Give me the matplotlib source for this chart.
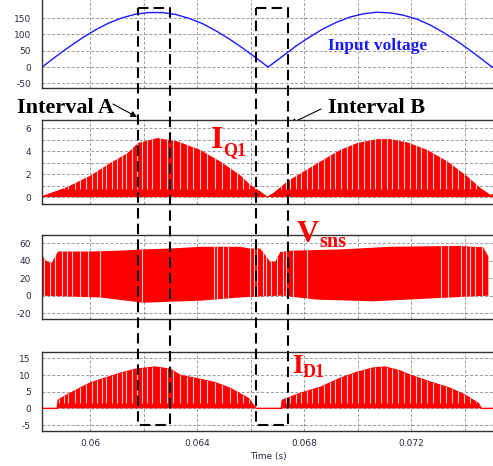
import numpy as np
import matplotlib.pyplot as plt
from matplotlib.lines import Line2D
from matplotlib import transforms

W, H = 493, 466

plt.rcParams['axes.unicode_minus'] = False

# rectified input voltage (V)
t_vin = [0.0582, 0.0587, 0.0592, 0.0597, 0.0602, 0.0607, 0.0612, 0.0617, 0.0622,
         0.0627, 0.0632, 0.0637, 0.0642, 0.0647, 0.0652, 0.0657, 0.0662, 0.06665,
         0.0672, 0.0677, 0.0682, 0.0687, 0.0692, 0.0697, 0.0702, 0.0707, 0.0712,
         0.0717, 0.0722, 0.0727, 0.0732, 0.0737, 0.0742, 0.0747, 0.07502, 0.0755]
v_in = [0, 31, 61, 89, 114, 135, 151, 162, 167, 167, 161, 149, 133, 111, 86, 58, 28, 0,
        34, 65, 92, 117, 137, 153, 163, 168, 166, 159, 147, 129, 106, 80, 51, 20, 0, 30]

# switch current IQ1 peak envelope (A)
t_iq = [0.058206, 0.058393, 0.05914, 0.06, 0.060748, 0.061383, 0.061794, 0.062505,
        0.063252, 0.064112, 0.06486, 0.065607, 0.065981, 0.066355, 0.066617, 0.066841,
        0.067364, 0.067962, 0.06871, 0.069346, 0.069981, 0.070729, 0.071215, 0.07185,
        0.072598, 0.073346, 0.074093, 0.074579, 0.074953, 0.075514]
i_q1 = [0.1, 0.25, 0.87, 1.85, 2.96, 3.8, 4.7, 5.13, 4.85, 4.1, 3.1, 1.9, 1.07, 0.5,
        0.05, 0.35, 1.36, 2.2, 3.24, 4.1, 4.7, 5.04, 5.04, 4.75, 4.1, 3.1, 1.8, 0.8, 0.2, 0.6]

# sense voltage Vsns, upper and lower envelope (V)
t_sns_hi = [0.058206, 0.058318, 0.058467, 0.05858, 0.058692, 0.058804, 0.06, 0.061121,
            0.061981, 0.06299, 0.064112, 0.065607, 0.065981, 0.066355, 0.066579, 0.066728,
            0.066915, 0.067102, 0.067476, 0.069345, 0.071214, 0.073718, 0.07469, 0.074877]
v_sns_hi = [46.6, 41, 38, 38, 45, 50.6, 50.6, 51.6, 53, 54, 56, 56, 54, 54, 45, 39,
            39, 50, 51.5, 53, 56, 57, 55.5, 45]
t_sns_lo = [0.058206, 0.058804, 0.060374, 0.061981, 0.064112, 0.065607, 0.066168,
            0.067102, 0.067476, 0.068485, 0.070579, 0.073083, 0.074093, 0.074877]
v_sns_lo = [0, -0.5, -2, -8, -5.7, -2, -1, 0, -1, -4.5, -6.4, -2.6, -1, 0]

# diode current ID1 peak envelope (A)
t_id = [0.058206, 0.058766, 0.058804, 0.059252, 0.06, 0.061121, 0.061682, 0.06243,
        0.06299, 0.063364, 0.064112, 0.064673, 0.065233, 0.065682, 0.065906, 0.066093,
        0.066205, 0.06714, 0.067177, 0.06785, 0.068597, 0.069345, 0.06998, 0.070579,
        0.071027, 0.071588, 0.071962, 0.072709, 0.073457, 0.074018, 0.074503, 0.074616,
        0.075513]
i_d1 = [0, 0, 2.5, 4.5, 7.6, 10.5, 11.7, 12.4, 11.7, 9.9, 8.7, 7.7, 6.0, 4.0, 3.0, 1.0,
        0, 0, 2.4, 4.5, 6.3, 9.0, 10.8, 12.1, 12.4, 11.2, 9.9, 7.9, 6.0, 3.9, 1.5, 0, 0]

# instants where the switching pulses leave gaps in the plotted traces
gaps_i = [0.058617, 0.058841, 0.059028, 0.059178, 0.059439, 0.059626, 0.05985, 0.060075,
          0.060262, 0.060449, 0.060598, 0.060822, 0.061009, 0.061196, 0.061346, 0.06157,
          0.061757, 0.061944, 0.062131, 0.062318, 0.062617, 0.062878, 0.063103, 0.063364,
          0.063626, 0.06385, 0.064112, 0.064373, 0.064673, 0.064934, 0.065233, 0.065495,
          0.065719, 0.065943, 0.066168, 0.066429, 0.066915, 0.06714, 0.067326, 0.067476,
          0.0677, 0.067887, 0.068111, 0.068298, 0.068523, 0.068747, 0.068971, 0.069158,
          0.069382, 0.069607, 0.069794, 0.070018, 0.070242, 0.070466, 0.070653, 0.070878,
          0.071102, 0.071289, 0.071513, 0.071737, 0.071962, 0.072186, 0.072373, 0.072597,
          0.072821, 0.073083, 0.073307, 0.073532, 0.073756, 0.07398, 0.074204, 0.074429,
          0.074653]
gaps_sns = [0.05828, 0.058505, 0.058692, 0.058953, 0.05914, 0.059327, 0.059626, 0.059925,
            0.060374, 0.061944, 0.064635, 0.064747, 0.064972, 0.065158, 0.065981, 0.06613,
            0.066242, 0.066467, 0.066579, 0.066766, 0.06699, 0.067214, 0.067326, 0.067588,
            0.068111, 0.07312, 0.073382, 0.073868, 0.074055, 0.074204, 0.074391, 0.074653]

# highlighted intervals (s)
interval_a = (0.0618, 0.0630)
interval_b = (0.0662, 0.0674)

RED = '#ff0000'
BLUE = '#1a1aff'
TICK = '#2a2a44'

fig = plt.figure(figsize=(W / 100, H / 100), dpi=100)


def frac(x, y):
    return x / W, 1 - y / H


def panel(top, bottom, ylim, yticks, yminor=None):
    ax = fig.add_axes([42 / W, 1 - bottom / H, (505 - 42) / W, (bottom - top) / H])
    ax.set_xlim(0.0582, 0.0755)
    ax.set_ylim(*ylim)
    ax.set_xticks([0.06, 0.064, 0.068, 0.072])
    ax.set_xticks([0.062, 0.066, 0.070, 0.074], minor=True)
    ax.set_xticklabels(['0.06', '0.064', '0.068', '0.072'])
    ax.set_yticks(yticks)
    if yminor:
        ax.set_yticks(yminor, minor=True)
    ax.set_axisbelow(True)
    ax.grid(True, which='both', color='#9a9a9a', ls=(0, (3, 2)), lw=0.7)
    ax.tick_params(which='both', length=0, labelsize=6.5, labelcolor=TICK, pad=8)
    ax.tick_params(axis='x', labelbottom=False, pad=6)
    for s in ax.spines.values():
        s.set_color('#333333')
        s.set_linewidth(1)
    return ax


def pulses(ax, poly, gaps, lo, hi):
    vl = ax.vlines(gaps, lo, hi, colors='white', lw=0.8, alpha=0.8, zorder=3)
    vl.set_clip_path(poly)


# input voltage
ax1 = panel(-1.5, 88.3, (-65, 210), [-50, 0, 50, 100, 150])
ax1.plot(t_vin, v_in, color=BLUE, lw=1)

# IQ1
ax2 = panel(120, 204, (-0.6, 6.7), [0, 2, 4, 6], [1, 3, 5])
poly = ax2.fill(np.r_[t_iq[0], t_iq, t_iq[-1]], np.r_[0, i_q1, 0], color=RED, lw=0)[0]
pulses(ax2, poly, gaps_i, 0.7, 10)

# Vsns
ax3 = panel(235, 319.3, (-27, 69.5), [-20, 0, 20, 40, 60])
poly = ax3.fill(np.r_[t_sns_hi, t_sns_lo[::-1]], np.r_[v_sns_hi, v_sns_lo[::-1]],
                color=RED, lw=0)[0]
pulses(ax3, poly, gaps_sns, -30, 80)

# ID1
ax4 = panel(351.7, 430.7, (-6.7, 17), [-5, 0, 5, 10, 15])
poly = ax4.fill(np.r_[t_id[0], t_id, t_id[-1]], np.r_[0, i_d1, 0], color=RED, lw=0)[0]
ax4.plot(t_id, i_d1, color=RED, lw=1)
pulses(ax4, poly, gaps_i, 1.5, 20)
ax4.tick_params(axis='x', labelbottom=True)
fig.text(268 / W, 1 - 457 / H, 'Time (s)', fontsize=6.5, color=TICK, ha='center', va='center')

# dashed boxes around the two intervals
blend = transforms.blended_transform_factory(ax4.transData, fig.transFigure)
ytop, ybot = 1 - 8 / H, 1 - 425 / H
for t0, t1 in (interval_a, interval_b):
    fig.add_artist(Line2D([t0, t1, t1, t0, t0], [ytop, ytop, ybot, ybot, ytop],
                          transform=blend, color='black', lw=1.5, dashes=(5, 2.5)))

serif = dict(fontfamily='Liberation Serif', fontweight='bold', va='baseline', ha='left')
fig.text(*frac(17, 113), 'Interval A', fontsize=16, color='black', **serif)
fig.text(*frac(328, 113), 'Interval B', fontsize=16, color='black', **serif)
fig.text(*frac(328, 50.5), 'Input voltage', fontsize=12.5, color=BLUE, **serif)
fig.text(*frac(211, 148), 'I', fontsize=23, color=RED, **serif)
fig.text(*frac(223, 155), 'Q1', fontsize=13, color=RED, **serif)
fig.text(*frac(297, 242), 'V', fontsize=22, color=RED, **serif)
fig.text(*frac(319, 247), 'sns', fontsize=14.5, color=RED, **serif)
fig.text(*frac(292, 373), 'I', fontsize=20, color=RED, **serif)
fig.text(*frac(303, 377), 'D1', fontsize=13, color=RED, **serif)

arrow = dict(arrowstyle='-|>', color='black', lw=0.8, mutation_scale=9,
             shrinkA=0, shrinkB=0)
ax1.annotate('', xy=frac(137, 117), xycoords='figure fraction', xytext=frac(113, 104),
             textcoords='figure fraction', arrowprops=arrow, annotation_clip=False)
ax1.annotate('', xy=frac(290, 124), xycoords='figure fraction', xytext=frac(321, 109),
             textcoords='figure fraction', arrowprops=arrow, annotation_clip=False)

fig.savefig('out.png', dpi=100)
